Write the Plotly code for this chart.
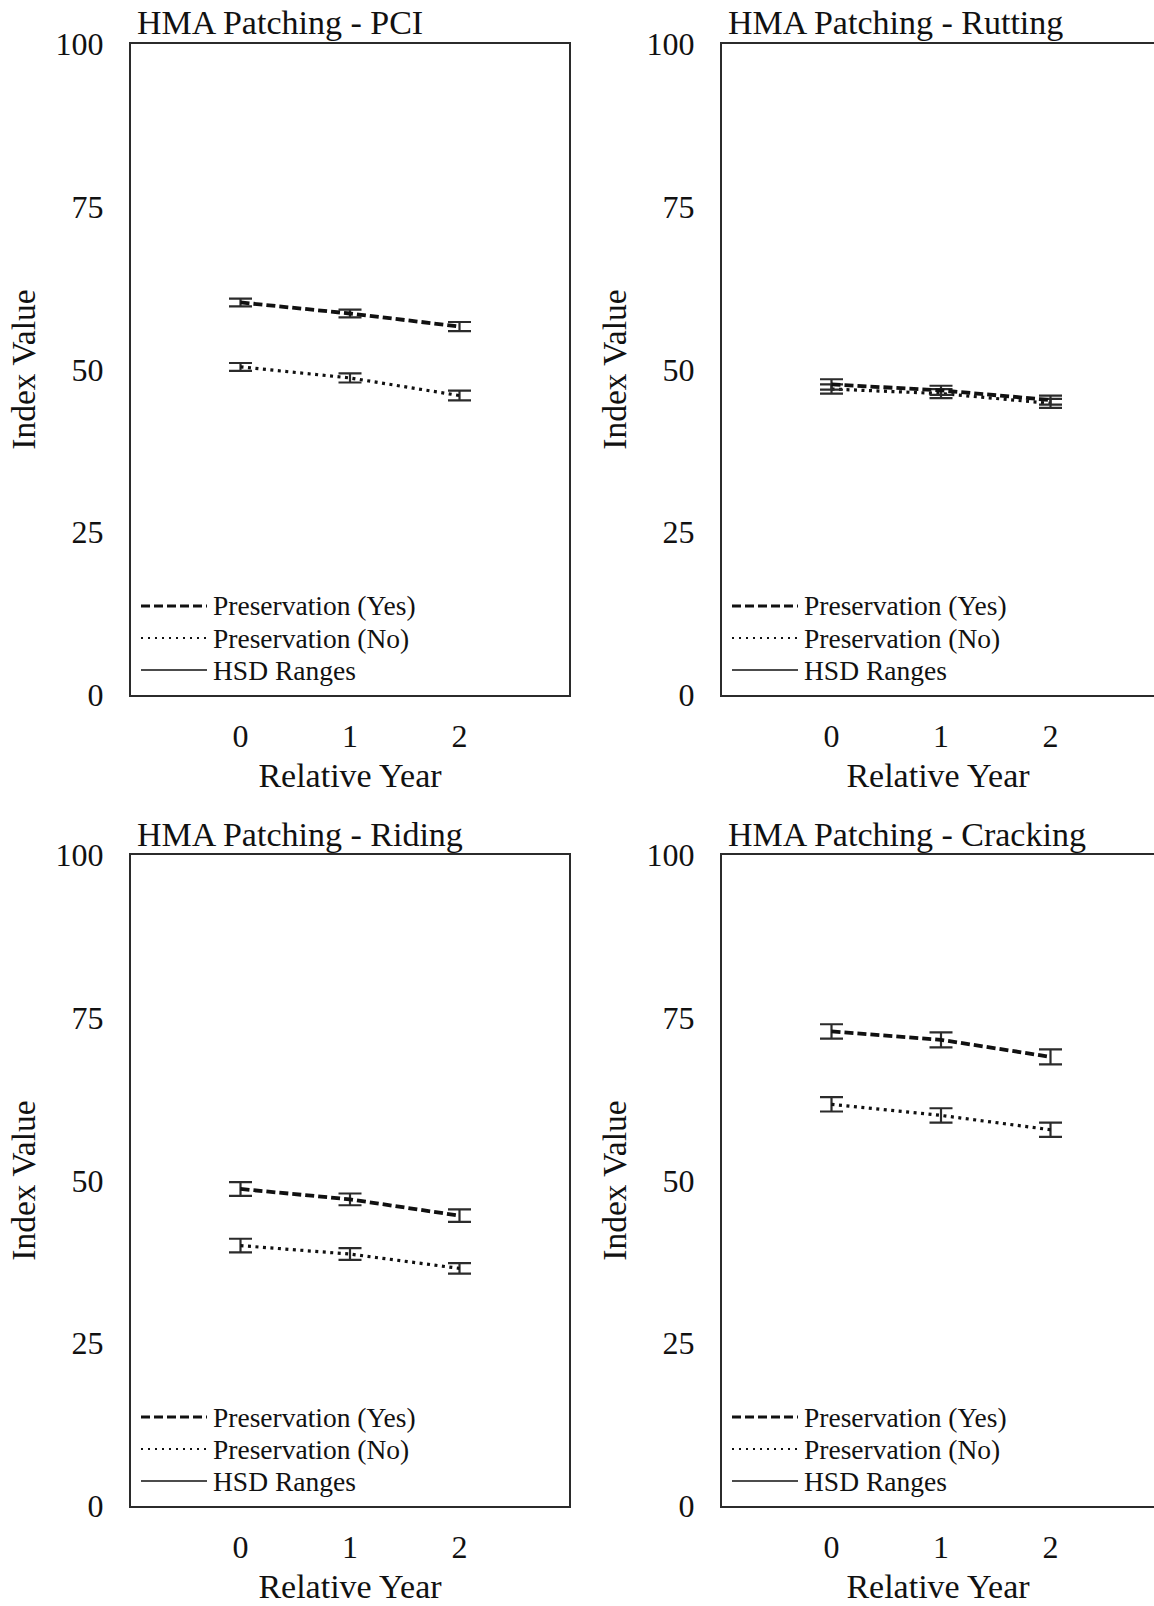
import plotly.graph_objects as go

# ---------------- data ----------------
years = [0, 1, 2]
year_ticks = ["0", "1", "2"]
index_ticks = [0, 25, 50, 75, 100]

panel_titles = ["HMA Patching - PCI", "HMA Patching - Rutting",
                "HMA Patching - Riding", "HMA Patching - Cracking"]
legend_names = ["Preservation (Yes)", "Preservation (No)", "HSD Ranges"]

pci_yes = [60.3, 58.6, 56.6]
pci_yes_hsd = [0.6, 0.6, 0.7]
pci_no = [50.4, 48.7, 46.0]
pci_no_hsd = [0.6, 0.7, 0.75]

rut_yes = [47.7, 46.8, 45.3]
rut_yes_hsd = [0.8, 0.7, 0.7]
rut_no = [47.0, 46.3, 44.8]
rut_no_hsd = [0.7, 0.7, 0.7]

ride_yes = [48.7, 47.1, 44.6]
ride_yes_hsd = [1.05, 0.9, 0.95]
ride_no = [40.0, 38.7, 36.5]
ride_no_hsd = [1.05, 0.9, 0.8]

crack_yes = [72.9, 71.6, 69.0]
crack_yes_hsd = [1.1, 1.15, 1.15]
crack_no = [61.7, 60.0, 57.8]
crack_no_hsd = [1.1, 1.1, 1.1]

# ---------------- layout helpers ----------------
W, H = 1154, 1606
FONT = "Liberation Serif, Times New Roman, serif"
INK = "#111111"
AX = "#2b2b2b"


def px_x(p):
    return p / W


def px_y(p):
    return 1 - p / H


# panel pixel boxes: (left, right, top, bottom, xmax)
panels = [
    (131, 569, 44, 695, 3.0),
    (722, 1154, 44, 695, -1 + (1154 - 722) / 109.5),
    (131, 569, 855, 1506, 3.0),
    (722, 1154, 855, 1506, -1 + (1154 - 722) / 109.5),
]

series = [
    (pci_yes, pci_yes_hsd, pci_no, pci_no_hsd),
    (rut_yes, rut_yes_hsd, rut_no, rut_no_hsd),
    (ride_yes, ride_yes_hsd, ride_no, ride_no_hsd),
    (crack_yes, crack_yes_hsd, crack_no, crack_no_hsd),
]

fig = go.Figure()
shapes = []
annotations = []

for i, ((l, r, t, b, xmax), (yes, yes_e, no, no_e), title) in enumerate(
        zip(panels, series, panel_titles)):
    n = "" if i == 0 else str(i + 1)
    xa, ya = "x" + n, "y" + n
    for vals, errs, dash, width in [(no, no_e, "3px,4.5px", 3.2),
                                    (yes, yes_e, "9px,4px", 3.8)]:
        fig.add_trace(go.Scatter(
            x=years, y=vals, mode="lines", xaxis=xa, yaxis=ya,
            line=dict(color=INK, width=width, dash=dash),
            error_y=dict(type="data", array=errs, visible=True,
                         color=AX, thickness=2.2, width=11.5),
            showlegend=False, hoverinfo="skip"))

    right_open = r >= W
    fig.layout["xaxis" + n] = dict(
        domain=[px_x(l), px_x(r)], anchor=ya, range=[-1, xmax],
        tickvals=years, ticktext=year_ticks, ticks="", automargin=False,
        showline=True, linecolor=AX, linewidth=2, mirror=True,
        showgrid=False, zeroline=False, ticklabelstandoff=12,
        tickfont=dict(family=FONT, size=32, color=INK),
        title=dict(text="Relative Year", standoff=10,
                   font=dict(family=FONT, size=34, color=INK)))
    fig.layout["yaxis" + n] = dict(
        domain=[px_y(b), px_y(t)], anchor=xa, range=[0, 100],
        tickvals=index_ticks, ticks="", automargin=False,
        showline=True, linecolor=AX, linewidth=2,
        mirror=(not right_open),
        showgrid=False, zeroline=False, ticklabelstandoff=19,
        tickfont=dict(family=FONT, size=32, color=INK),
        title=dict(text="Index Value", standoff=10,
                   font=dict(family=FONT, size=33.5, color=INK)))

    # panel title
    annotations.append(dict(
        text=title, xref="paper", yref="paper",
        x=px_x(l + 4), y=px_y(t - 21), xanchor="left", yanchor="middle",
        showarrow=False, font=dict(family=FONT, size=34, color=INK)))

    # legend (inside the box, bottom-left)
    rows = [b - 89, b - 57, b - 25]
    dashes = ["9px,4px", "2px,5px", "solid"]
    widths = [3.2, 2.2, 1.5]
    for name, ry, dsh, w in zip(legend_names, rows, dashes, widths):
        shapes.append(dict(
            type="line", xref="paper", yref="paper",
            x0=px_x(l + 10), x1=px_x(l + 76), y0=px_y(ry), y1=px_y(ry),
            line=dict(color=INK, width=w, dash=dsh)))
        annotations.append(dict(
            text=name, xref="paper", yref="paper",
            x=px_x(l + 80), y=px_y(ry), xanchor="left", yanchor="middle",
            showarrow=False, font=dict(family=FONT, size=27.5, color=INK)))

fig.update_layout(
    width=W, height=H,
    margin=dict(l=0, r=0, t=0, b=0, autoexpand=False),
    paper_bgcolor="white", plot_bgcolor="white",
    showlegend=False,
    shapes=shapes, annotations=annotations,
    font=dict(family=FONT, color=INK),
)

fig.write_html("out.html")
